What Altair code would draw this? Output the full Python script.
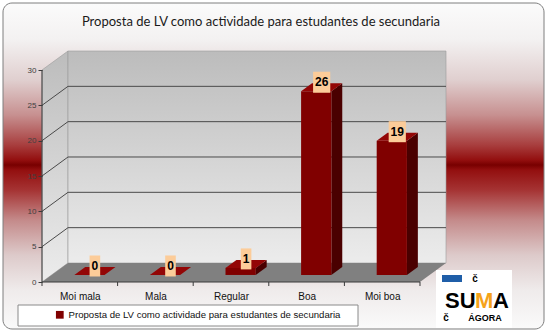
import altair as alt
import pandas as pd

# ---------------- data ----------------
categories = ["Moi mala", "Mala", "Regular", "Boa", "Moi boa"]
values = [0, 0, 1, 26, 19]
series_name = "Proposta de LV como actividade para estudantes de secundaria"
chart_title = "Proposta de LV como actividade para estudantes de secundaria"
y_ticks = [0, 5, 10, 15, 20, 25, 30]
y_max = 30

# ---------------- geometry (layout) ----------------
W, H = 404, 231
PL, PT, PR, PB = 42, 51, 101, 51
DX, DY = 0.344, 2.69          # 3-D depth offset in data units
F0, F1 = 0.37, 0.79           # bar depth span (fraction of depth)
HW = 0.2                      # half bar width (category units)
n = len(categories)
x0, x1 = -0.5, n - 0.5
xs = alt.Scale(domain=[x0, x1 + DX], nice=False, zero=False)
ys = alt.Scale(domain=[0, y_max + DY], nice=False, zero=False)
PXU = W / (x1 + DX - x0)
PYU = H / (y_max + DY)

FONT = "Liberation Sans"

label_expr = "[" + ",".join("'" + c + "'" for c in categories) + "][datum.value]"
XAXIS = alt.Axis(values=list(range(n)), labelExpr=label_expr, ticks=False, domain=False,
                 grid=False, title=None, labelFont=FONT, labelFontSize=10,
                 labelColor="#111111", labelPadding=9, labelFlush=False, zindex=5)
YAXIS = alt.Axis(values=y_ticks, domain=False, grid=False, title=None, tickSize=4,
                 tickColor="#3a3a3a", labelFont=FONT, labelFontSize=8,
                 labelColor="#404040", labelPadding=2, zindex=5)


def X(f):
    return alt.X(f, type="quantitative", scale=xs, axis=XAXIS)


def Y(f):
    return alt.Y(f, type="quantitative", scale=ys, stack=None, axis=YAXIS)


one = pd.DataFrame({"a": [0]})


def grad(stops):
    return alt.LinearGradient(
        gradient="linear", x1=0, y1=0, x2=0, y2=1,
        stops=[alt.GradientStop(offset=o, color=c) for o, c in stops],
    )


# background panel with red band gradient
bg_top, bg_bot = 3, 329
bg_stops_abs = [
    (3, "#fbfbfb"), (40, "#f3f1f1"), (80, "#e0cfcf"), (115, "#c79090"),
    (145, "#a83e3e"), (160, "#930f0f"), (165, "#780000"), (170, "#930f0f"),
    (190, "#a53333"), (220, "#c48a8a"), (255, "#ddcaca"), (290, "#efebeb"),
    (329, "#fafafa"),
]
bg_stops = [((y - bg_top) / (bg_bot - bg_top), c) for y, c in bg_stops_abs]
background = alt.Chart(one).mark_rect(
    fill=grad(bg_stops), stroke="#7f7f7f", strokeWidth=1, cornerRadius=9
).encode(
    x=alt.value(3 - PL), x2=alt.value(544 - PL),
    y=alt.value(bg_top - PT), y2=alt.value(bg_bot - PT),
)

# walls
wall_grad = grad([(0, "#bcbcbc"), (1, "#ececec")])
side_wall_df = pd.DataFrame({"x": [x0, x0 + DX], "y": [0, DY], "y2": [y_max, y_max + DY]})
side_wall = alt.Chart(side_wall_df).mark_area(fill=wall_grad, stroke="#9a9a9a", strokeWidth=0.6).encode(
    x=X("x"), y=Y("y"), y2="y2"
)
back_wall_df = pd.DataFrame({"x": [x0 + DX], "x2": [x1 + DX], "y": [DY], "y2": [y_max + DY]})
back_wall = alt.Chart(back_wall_df).mark_rect(fill=wall_grad, stroke="#9a9a9a", strokeWidth=0.6).encode(
    x=X("x"), x2="x2", y=Y("y"), y2="y2"
)
floor_df = pd.DataFrame({
    "x": [x0, x0 + DX, x1, x1 + DX],
    "y": [0, 0, 0, DY],
    "y2": [0, DY, DY, DY],
})
floor = alt.Chart(floor_df).mark_area(fill="#808080").encode(x=X("x"), y=Y("y"), y2="y2")

# gridlines (back wall + side wall diagonals)
grid_rows = []
for v in y_ticks[1:-1]:
    grid_rows.append({"x": x0 + DX, "x2": x1 + DX, "y": v + DY, "y2": v + DY})
    grid_rows.append({"x": x0, "x2": x0 + DX, "y": v, "y2": v + DY})
grid = alt.Chart(pd.DataFrame(grid_rows)).mark_rule(color="#4a4a4a", strokeWidth=1).encode(
    x=X("x"), x2="x2", y=Y("y"), y2="y2"
)

# axis lines
axis_df = pd.DataFrame({"x": [x0, x0], "x2": [x0, x1], "y": [0, 0], "y2": [y_max, 0]})
axis_lines = alt.Chart(axis_df).mark_rule(color="#3a3a3a", strokeWidth=1).encode(
    x=X("x"), x2="x2", y=Y("y"), y2="y2"
)
tick_df = pd.DataFrame({"x": [i - 0.5 for i in range(n + 1)]})
x_ticks = alt.Chart(tick_df).mark_rule(color="#3a3a3a", strokeWidth=1).encode(
    x=X("x"), y=alt.value(H), y2=alt.value(H + 4)
)

# bars
front_rows, side_rows, top_rows, lab_rows = [], [], [], []
for i, (c, v) in enumerate(zip(categories, values)):
    fx = i + F0 * DX
    bx = i + F1 * DX
    fy = F0 * DY
    by = F1 * DY
    front_rows.append({"cat": c, "series": series_name, "x": fx - HW, "x2": fx + HW, "y": fy, "y2": v + fy})
    side_rows += [
        {"poly": c, "x": fx + HW, "y": fy, "y2": v + fy},
        {"poly": c, "x": bx + HW, "y": by, "y2": v + by},
    ]
    top_rows += [
        {"poly": c, "x": fx - HW, "y": v + fy, "y2": v + fy},
        {"poly": c, "x": bx - HW, "y": v + fy, "y2": v + by},
        {"poly": c, "x": fx + HW, "y": v + fy, "y2": v + by},
        {"poly": c, "x": bx + HW, "y": v + by, "y2": v + by},
    ]
    txt = str(v)
    cx = i + (F0 + F1) / 2 * DX
    cy = v + (F0 + F1) / 2 * DY + 5 / PYU
    hw = (len(txt) * 6.6 + 4) / 2 / PXU
    hh = 10.5 / PYU
    lab_rows.append({"label": txt, "cx": cx, "cy": cy, "x": cx - hw, "x2": cx + hw, "y": cy - hh, "y2": cy + hh})

side_faces = alt.Chart(pd.DataFrame(side_rows)).mark_area(fill="#4a0000").encode(
    x=X("x"), y=Y("y"), y2="y2", detail="poly:N"
)
top_faces = alt.Chart(pd.DataFrame(top_rows)).mark_area(fill="#930606").encode(
    x=X("x"), y=Y("y"), y2="y2", detail="poly:N"
)

front_faces = alt.Chart(pd.DataFrame(front_rows)).mark_rect().encode(
    x=X("x"), x2="x2", y=Y("y"), y2="y2",
    color=alt.Color("series:N", scale=alt.Scale(range=["#800000"]),
                    legend=alt.Legend(orient="none", legendX=55 - PL, legendY=310 - PT, title=None,
                                      symbolType="square", symbolSize=60, symbolStrokeWidth=0,
                                      labelFont=FONT, labelFontSize=9.6, labelColor="#111111",
                                      labelLimit=500, padding=0)),
)

lab_df = pd.DataFrame(lab_rows)
label_boxes = alt.Chart(lab_df).mark_rect(fill="#fccc99").encode(
    x=X("x"), x2="x2", y=Y("y"), y2="y2"
)
label_text = alt.Chart(lab_df).mark_text(font=FONT, fontSize=12, fontWeight="bold", color="#000000",
                                         baseline="middle", align="center").encode(
    x=X("cx"), y=Y("cy"), text="label:N"
)

# legend frame
legend_box = alt.Chart(one).mark_rect(fill="#ffffff", stroke="#8a8a8a", strokeWidth=1).encode(
    x=alt.value(18 - PL), x2=alt.value(358 - PL), y=alt.value(305 - PT), y2=alt.value(326 - PT)
)

# logo (decoration)
logo_box = alt.Chart(one).mark_rect(fill="#ffffff").encode(
    x=alt.value(436 - PL), x2=alt.value(512 - PL), y=alt.value(270 - PT), y2=alt.value(328 - PT)
)
logo_badge = alt.Chart(one).mark_rect(fill="#1f5ea8").encode(
    x=alt.value(442 - PL), x2=alt.value(462 - PL), y=alt.value(275 - PT), y2=alt.value(282 - PT)
)
logo_su = alt.Chart(one).mark_text(text="SU", font=FONT, fontSize=22, fontWeight="bold", color="#000000",
                                   align="left", baseline="alphabetic").encode(
    x=alt.value(445 - PL), y=alt.value(308 - PT))
logo_m = alt.Chart(one).mark_text(text="M", font=FONT, fontSize=22, fontWeight="bold", color="#f5a31a",
                                  align="left", baseline="alphabetic").encode(
    x=alt.value(475 - PL), y=alt.value(308 - PT))
logo_a = alt.Chart(one).mark_text(text="A", font=FONT, fontSize=22, fontWeight="bold", color="#000000",
                                  align="left", baseline="alphabetic").encode(
    x=alt.value(493 - PL), y=alt.value(308 - PT))
logo_agora = alt.Chart(one).mark_text(text="ÁGORA", font=FONT, fontSize=9, fontWeight="bold", color="#000000",
                                      align="center", baseline="alphabetic").encode(
    x=alt.value(485 - PL), y=alt.value(321 - PT))
logo_c1 = alt.Chart(one).mark_text(text="č", font=FONT, fontSize=10, fontWeight="bold", color="#000000",
                                   align="center", baseline="middle").encode(
    x=alt.value(475 - PL), y=alt.value(279 - PT))
logo_c2 = alt.Chart(one).mark_text(text="č", font=FONT, fontSize=10, fontWeight="bold", color="#000000",
                                   align="center", baseline="middle").encode(
    x=alt.value(446 - PL), y=alt.value(318 - PT))

title = alt.Chart(one).mark_text(text=chart_title, font="Lato", fontSize=13, color="#1a1a1a",
                                 align="center", baseline="middle").encode(
    x=alt.value(261 - PL), y=alt.value(22 - PT))

chart = alt.layer(
    background, side_wall, back_wall, floor, grid, axis_lines, x_ticks,
    side_faces, front_faces, top_faces, label_boxes, label_text,
    legend_box, logo_box, logo_badge, logo_su, logo_m, logo_a, logo_agora, logo_c1, logo_c2,
    title,
).properties(
    width=W, height=H,
    autosize=alt.AutoSizeParams(type="none"),
    padding={"left": PL, "top": PT, "right": PR, "bottom": PB},
    background="#ffffff",
).configure_view(stroke=None)

chart.save("out.html", embed_options={"renderer": "svg", "actions": False})
